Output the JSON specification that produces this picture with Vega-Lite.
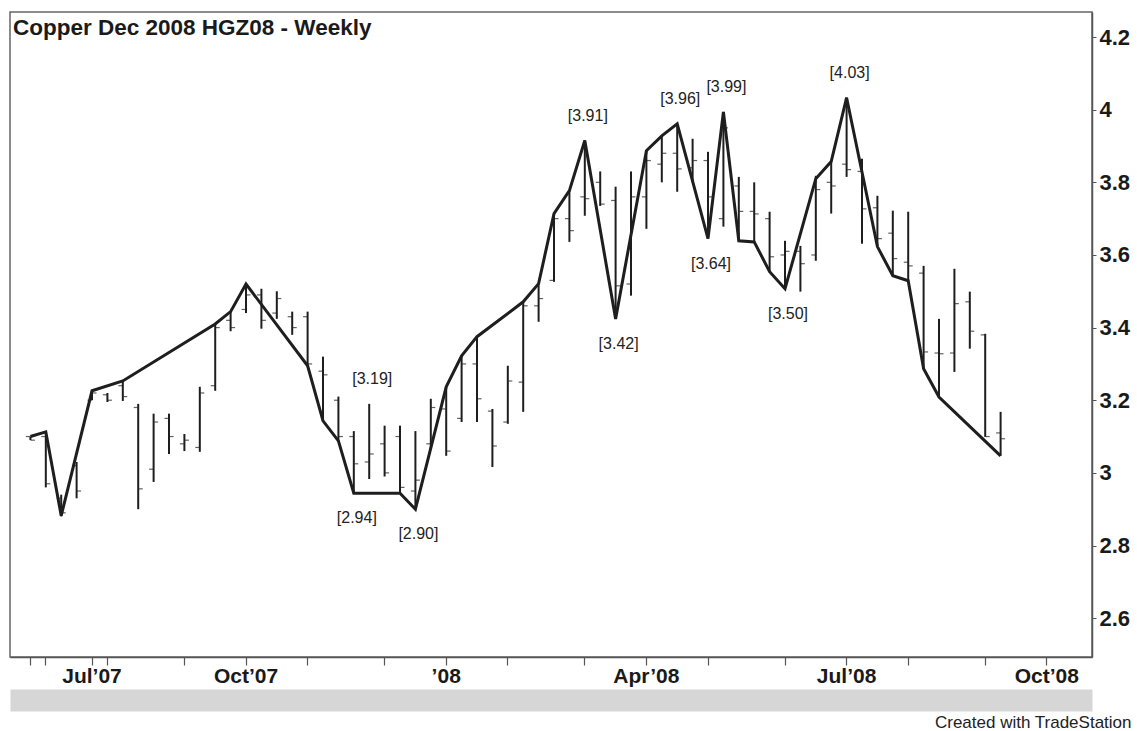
{
  "$schema": "https://vega.github.io/schema/vega-lite/v6.json",
  "autosize": "none",
  "width": 1082,
  "height": 645,
  "padding": {"left": 10, "top": 12, "right": 45, "bottom": 74},
  "background": "white",
  "title": {
    "text": "Copper Dec 2008 HGZ08 - Weekly",
    "anchor": "start",
    "frame": "group",
    "orient": "top",
    "offset": -23,
    "dx": 3,
    "dy": 22,
    "baseline": "alphabetic",
    "font": "Liberation Sans",
    "fontSize": 22.5,
    "fontWeight": "bold",
    "color": "#1a1a1a"
  },
  "config": {
    "view": {"stroke": "#666", "strokeWidth": 1.5},
    "text": {"font": "Liberation Sans"}
  },
  "datasets": {
    "bars": [
      {"week": "2007-05-25", "open": 3.10, "high": 3.10, "low": 3.09, "close": 3.09},
      {"week": "2007-06-01", "open": 3.10, "high": 3.11, "low": 2.96, "close": 2.97},
      {"week": "2007-06-15", "open": 2.93, "high": 2.94, "low": 2.88, "close": 2.89},
      {"week": "2007-06-29", "open": 3.02, "high": 3.03, "low": 2.93, "close": 2.95},
      {"week": "2007-07-27", "open": 3.20, "high": 3.226, "low": 3.20, "close": 3.22},
      {"week": "2007-08-03", "open": 3.215, "high": 3.22, "low": 3.195, "close": 3.20},
      {"week": "2007-08-10", "open": 3.24, "high": 3.253, "low": 3.198, "close": 3.21},
      {"week": "2007-08-17", "open": 3.18, "high": 3.19, "low": 2.90, "close": 2.956},
      {"week": "2007-08-24", "open": 3.01, "high": 3.163, "low": 2.975, "close": 3.14},
      {"week": "2007-08-31", "open": 3.15, "high": 3.163, "low": 3.052, "close": 3.10},
      {"week": "2007-09-07", "open": 3.08, "high": 3.107, "low": 3.06, "close": 3.09},
      {"week": "2007-09-14", "open": 3.07, "high": 3.237, "low": 3.058, "close": 3.22},
      {"week": "2007-09-21", "open": 3.24, "high": 3.41, "low": 3.226, "close": 3.40},
      {"week": "2007-09-28", "open": 3.42, "high": 3.444, "low": 3.39, "close": 3.40},
      {"week": "2007-10-05", "open": 3.45, "high": 3.52, "low": 3.44, "close": 3.49},
      {"week": "2007-10-12", "open": 3.49, "high": 3.507, "low": 3.397, "close": 3.42},
      {"week": "2007-10-19", "open": 3.44, "high": 3.50, "low": 3.424, "close": 3.48},
      {"week": "2007-10-26", "open": 3.43, "high": 3.444, "low": 3.38, "close": 3.40},
      {"week": "2007-11-02", "open": 3.43, "high": 3.444, "low": 3.292, "close": 3.30},
      {"week": "2007-11-09", "open": 3.28, "high": 3.32, "low": 3.14, "close": 3.27},
      {"week": "2007-11-16", "open": 3.20, "high": 3.21, "low": 3.085, "close": 3.10},
      {"week": "2007-11-23", "open": 3.10, "high": 3.115, "low": 2.944, "close": 3.025},
      {"week": "2007-11-30", "open": 3.03, "high": 3.19, "low": 2.983, "close": 3.052},
      {"week": "2007-12-07", "open": 3.08, "high": 3.13, "low": 2.99, "close": 3.00},
      {"week": "2007-12-14", "open": 3.10, "high": 3.13, "low": 2.944, "close": 2.96},
      {"week": "2007-12-21", "open": 2.95, "high": 3.115, "low": 2.90, "close": 2.98},
      {"week": "2007-12-28", "open": 3.08, "high": 3.204, "low": 3.066, "close": 3.18},
      {"week": "2008-01-04", "open": 3.176, "high": 3.237, "low": 3.047, "close": 3.06},
      {"week": "2008-01-11", "open": 3.15, "high": 3.322, "low": 3.14, "close": 3.30},
      {"week": "2008-01-18", "open": 3.30, "high": 3.375, "low": 3.14, "close": 3.204},
      {"week": "2008-01-25", "open": 3.17, "high": 3.176, "low": 3.016, "close": 3.074},
      {"week": "2008-02-01", "open": 3.14, "high": 3.295, "low": 3.135, "close": 3.253},
      {"week": "2008-02-08", "open": 3.25, "high": 3.471, "low": 3.168, "close": 3.46},
      {"week": "2008-02-15", "open": 3.46, "high": 3.521, "low": 3.416, "close": 3.48},
      {"week": "2008-02-22", "open": 3.53, "high": 3.714, "low": 3.526, "close": 3.70},
      {"week": "2008-02-29", "open": 3.70, "high": 3.777, "low": 3.636, "close": 3.667},
      {"week": "2008-03-07", "open": 3.76, "high": 3.915, "low": 3.708, "close": 3.755},
      {"week": "2008-03-14", "open": 3.80, "high": 3.83, "low": 3.735, "close": 3.74},
      {"week": "2008-03-21", "open": 3.75, "high": 3.788, "low": 3.424, "close": 3.515},
      {"week": "2008-03-28", "open": 3.52, "high": 3.83, "low": 3.488, "close": 3.76},
      {"week": "2008-04-04", "open": 3.76, "high": 3.887, "low": 3.672, "close": 3.86},
      {"week": "2008-04-11", "open": 3.85, "high": 3.926, "low": 3.80, "close": 3.88},
      {"week": "2008-04-18", "open": 3.88, "high": 3.961, "low": 3.774, "close": 3.837},
      {"week": "2008-04-25", "open": 3.84, "high": 3.92, "low": 3.80, "close": 3.86},
      {"week": "2008-05-02", "open": 3.86, "high": 3.884, "low": 3.645, "close": 3.76},
      {"week": "2008-05-09", "open": 3.70, "high": 3.994, "low": 3.678, "close": 3.95},
      {"week": "2008-05-16", "open": 3.79, "high": 3.815, "low": 3.639, "close": 3.72},
      {"week": "2008-05-23", "open": 3.72, "high": 3.80, "low": 3.636, "close": 3.713},
      {"week": "2008-05-30", "open": 3.70, "high": 3.719, "low": 3.554, "close": 3.595},
      {"week": "2008-06-06", "open": 3.60, "high": 3.639, "low": 3.507, "close": 3.61},
      {"week": "2008-06-13", "open": 3.61, "high": 3.625, "low": 3.499, "close": 3.576},
      {"week": "2008-06-20", "open": 3.60, "high": 3.818, "low": 3.584, "close": 3.78},
      {"week": "2008-06-27", "open": 3.80, "high": 3.857, "low": 3.714, "close": 3.79},
      {"week": "2008-07-04", "open": 3.85, "high": 4.033, "low": 3.815, "close": 3.835},
      {"week": "2008-07-11", "open": 3.83, "high": 3.865, "low": 3.631, "close": 3.727},
      {"week": "2008-07-18", "open": 3.73, "high": 3.763, "low": 3.623, "close": 3.645},
      {"week": "2008-07-25", "open": 3.66, "high": 3.722, "low": 3.543, "close": 3.59},
      {"week": "2008-08-01", "open": 3.58, "high": 3.719, "low": 3.529, "close": 3.57},
      {"week": "2008-08-08", "open": 3.55, "high": 3.57, "low": 3.287, "close": 3.333},
      {"week": "2008-08-15", "open": 3.33, "high": 3.424, "low": 3.209, "close": 3.328},
      {"week": "2008-08-22", "open": 3.33, "high": 3.562, "low": 3.278, "close": 3.466},
      {"week": "2008-08-29", "open": 3.471, "high": 3.499, "low": 3.342, "close": 3.39},
      {"week": "2008-09-05", "open": 3.38, "high": 3.383, "low": 3.099, "close": 3.10},
      {"week": "2008-09-12", "open": 3.11, "high": 3.168, "low": 3.047, "close": 3.094}
    ],
    "swing": [
      {"week": "2007-05-25", "price": 3.10},
      {"week": "2007-06-01", "price": 3.113},
      {"week": "2007-06-15", "price": 2.882},
      {"week": "2007-07-27", "price": 3.226},
      {"week": "2007-08-10", "price": 3.253},
      {"week": "2007-09-21", "price": 3.41},
      {"week": "2007-09-28", "price": 3.444},
      {"week": "2007-10-05", "price": 3.52},
      {"week": "2007-11-02", "price": 3.295},
      {"week": "2007-11-09", "price": 3.143},
      {"week": "2007-11-16", "price": 3.088},
      {"week": "2007-11-23", "price": 2.944},
      {"week": "2007-12-14", "price": 2.944},
      {"week": "2007-12-21", "price": 2.90},
      {"week": "2008-01-04", "price": 3.237},
      {"week": "2008-01-11", "price": 3.322},
      {"week": "2008-01-18", "price": 3.375},
      {"week": "2008-02-08", "price": 3.471},
      {"week": "2008-02-15", "price": 3.521},
      {"week": "2008-02-22", "price": 3.714},
      {"week": "2008-02-29", "price": 3.777},
      {"week": "2008-03-07", "price": 3.915},
      {"week": "2008-03-21", "price": 3.424},
      {"week": "2008-04-04", "price": 3.887},
      {"week": "2008-04-11", "price": 3.928},
      {"week": "2008-04-18", "price": 3.961},
      {"week": "2008-05-02", "price": 3.645},
      {"week": "2008-05-09", "price": 3.994},
      {"week": "2008-05-16", "price": 3.639},
      {"week": "2008-05-23", "price": 3.636},
      {"week": "2008-05-30", "price": 3.554},
      {"week": "2008-06-06", "price": 3.507},
      {"week": "2008-06-20", "price": 3.81},
      {"week": "2008-06-27", "price": 3.857},
      {"week": "2008-07-04", "price": 4.033},
      {"week": "2008-07-18", "price": 3.623},
      {"week": "2008-07-25", "price": 3.543},
      {"week": "2008-08-01", "price": 3.529},
      {"week": "2008-08-08", "price": 3.287},
      {"week": "2008-08-15", "price": 3.209},
      {"week": "2008-09-12", "price": 3.047}
    ],
    "labels": [
      {"week": "2007-11-23", "price": 2.944, "label": "[2.94]", "side": "low"},
      {"week": "2007-11-30", "price": 3.19, "label": "[3.19]", "side": "high"},
      {"week": "2007-12-21", "price": 2.90, "label": "[2.90]", "side": "low"},
      {"week": "2008-03-07", "price": 3.915, "label": "[3.91]", "side": "high"},
      {"week": "2008-03-21", "price": 3.424, "label": "[3.42]", "side": "low"},
      {"week": "2008-04-18", "price": 3.961, "label": "[3.96]", "side": "high"},
      {"week": "2008-05-02", "price": 3.645, "label": "[3.64]", "side": "low"},
      {"week": "2008-05-09", "price": 3.994, "label": "[3.99]", "side": "high"},
      {"week": "2008-06-06", "price": 3.507, "label": "[3.50]", "side": "low"},
      {"week": "2008-07-04", "price": 4.033, "label": "[4.03]", "side": "high"}
    ]
  },
  "layer": [
    {
      "data": {"name": "bars"},
      "mark": {"type": "rule", "color": "#1e1e1e", "strokeWidth": 2},
      "encoding": {
        "x": {
          "field": "week",
          "type": "ordinal",
          "scale": {
            "type": "band",
            "domain": ["2007-05-25","2007-06-01","2007-06-15","2007-06-29","2007-07-27",
              "2007-08-03","2007-08-10","2007-08-17","2007-08-24","2007-08-31",
              "2007-09-07","2007-09-14","2007-09-21","2007-09-28",
              "2007-10-05","2007-10-12","2007-10-19","2007-10-26",
              "2007-11-02","2007-11-09","2007-11-16","2007-11-23","2007-11-30",
              "2007-12-07","2007-12-14","2007-12-21","2007-12-28",
              "2008-01-04","2008-01-11","2008-01-18","2008-01-25",
              "2008-02-01","2008-02-08","2008-02-15","2008-02-22","2008-02-29",
              "2008-03-07","2008-03-14","2008-03-21","2008-03-28",
              "2008-04-04","2008-04-11","2008-04-18","2008-04-25",
              "2008-05-02","2008-05-09","2008-05-16","2008-05-23","2008-05-30",
              "2008-06-06","2008-06-13","2008-06-20","2008-06-27",
              "2008-07-04","2008-07-11","2008-07-18","2008-07-25",
              "2008-08-01","2008-08-08","2008-08-15","2008-08-22","2008-08-29",
              "2008-09-05","2008-09-12","2008-09-19","2008-09-26",
              "2008-10-03","2008-10-10","2008-10-17"],
            "paddingInner": 0,
            "paddingOuter": 0.63,
            "align": 0.655
          },
          "axis": {
            "orient": "bottom",
            "values": ["2007-05-25","2007-06-01","2007-07-27","2007-08-03","2007-09-07","2007-10-05","2007-11-02","2007-12-07","2008-01-04","2008-02-01","2008-03-07","2008-04-04","2008-05-02","2008-06-06","2008-07-04","2008-08-01","2008-09-05","2008-10-03"],
            "labelExpr": "datum.value=='2007-07-27'?'Jul’07':datum.value=='2007-10-05'?'Oct’07':datum.value=='2008-01-04'?'’08':datum.value=='2008-04-04'?'Apr’08':datum.value=='2008-07-04'?'Jul’08':datum.value=='2008-10-03'?'Oct’08':''",
            "labelAngle": 0,
            "labelOverlap": false,
            "labelFont": "Liberation Sans",
            "labelFontWeight": "bold",
            "labelFontSize": 21,
            "labelColor": "#1a1a1a",
            "labelPadding": 0,
            "domainColor": "#555",
            "domainWidth": 1.5,
            "tickColor": "#555",
            "tickSize": 8,
            "tickWidth": 1.2,
            "grid": false,
            "title": "Created with TradeStation",
            "titleX": 1121,
            "titleY": 70,
            "titleAlign": "right",
            "titleBaseline": "alphabetic",
            "titleFont": "Liberation Sans",
            "titleFontWeight": "normal",
            "titleFontSize": 17,
            "titleColor": "#222"
          }
        },
        "y": {
          "field": "low",
          "type": "quantitative",
          "scale": {"domain": [2.493, 4.269], "nice": false, "zero": false},
          "axis": {
            "orient": "right",
            "values": [2.6, 2.8, 3.0, 3.2, 3.4, 3.6, 3.8, 4.0, 4.2],
            "format": "~g",
            "labelAlign": "left",
            "labelBaseline": "middle",
            "labelPadding": 3,
            "labelFont": "Liberation Sans",
            "labelFontWeight": "bold",
            "labelFontSize": 22,
            "labelColor": "#1a1a1a",
            "tickSize": 4,
            "tickColor": "#555",
            "domainColor": "#555",
            "domainWidth": 1.5,
            "grid": false,
            "title": null
          }
        },
        "y2": {"field": "high"}
      }
    },
    {
      "data": {"name": "bars"},
      "mark": {"type": "tick", "color": "#1e1e1e", "size": 4, "thickness": 1.2, "xOffset": -2.5},
      "encoding": {
        "x": {"field": "week", "type": "ordinal", "scale": {"type": "band"}, "axis": null},
        "y": {"field": "open", "type": "quantitative", "axis": null}
      }
    },
    {
      "data": {"name": "bars"},
      "mark": {"type": "tick", "color": "#1e1e1e", "size": 4, "thickness": 1.2, "xOffset": 2.5},
      "encoding": {
        "x": {"field": "week", "type": "ordinal", "scale": {"type": "band"}, "axis": null},
        "y": {"field": "close", "type": "quantitative", "axis": null}
      }
    },
    {
      "data": {"name": "swing"},
      "mark": {"type": "line", "color": "#1e1e1e", "strokeWidth": 3, "strokeJoin": "miter"},
      "encoding": {
        "x": {
          "field": "week",
          "type": "ordinal",
          "scale": {"type": "band"},
          "axis": {
            "orient": "bottom",
            "offset": 43,
            "domainColor": "#d6d6d6",
            "domainWidth": 22,
            "ticks": false,
            "labels": false,
            "title": null,
            "grid": false
          }
        },
        "y": {"field": "price", "type": "quantitative", "axis": null}
      }
    },
    {
      "data": {"name": "labels"},
      "transform": [{"filter": "datum.side == 'high'"}],
      "mark": {"type": "text", "dy": -25, "dx": 3, "fontSize": 16, "color": "#222", "baseline": "middle"},
      "encoding": {
        "x": {"field": "week", "type": "ordinal", "scale": {"type": "band"}, "axis": null},
        "y": {"field": "price", "type": "quantitative", "axis": null},
        "text": {"field": "label"}
      }
    },
    {
      "data": {"name": "labels"},
      "transform": [{"filter": "datum.side == 'low'"}],
      "mark": {"type": "text", "dy": 25, "dx": 3, "fontSize": 16, "color": "#222", "baseline": "middle"},
      "encoding": {
        "x": {"field": "week", "type": "ordinal", "scale": {"type": "band"}, "axis": null},
        "y": {"field": "price", "type": "quantitative", "axis": null},
        "text": {"field": "label"}
      }
    }
  ],
  "resolve": {"axis": {"x": "independent", "y": "independent"}}
}
